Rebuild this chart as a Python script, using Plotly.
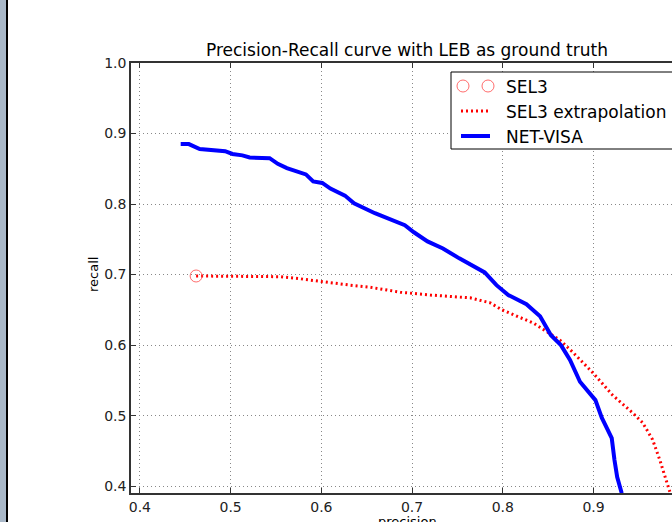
import plotly.graph_objects as go

# ---- data ----
netvisa_precision = [0.445, 0.454, 0.466, 0.494, 0.502, 0.513, 0.521, 0.543, 0.552, 0.562,
                     0.583, 0.591, 0.601, 0.610, 0.626, 0.636, 0.659, 0.692, 0.702, 0.717,
                     0.734, 0.752, 0.780, 0.793, 0.806, 0.826, 0.841, 0.848, 0.853, 0.864,
                     0.874, 0.885, 0.891, 0.902, 0.909, 0.920, 0.923, 0.926, 0.931]
netvisa_recall = [0.885, 0.885, 0.878, 0.875, 0.871, 0.869, 0.866, 0.865, 0.857, 0.851,
                  0.842, 0.832, 0.830, 0.822, 0.812, 0.801, 0.787, 0.770, 0.760, 0.747,
                  0.737, 0.723, 0.703, 0.685, 0.671, 0.658, 0.641, 0.624, 0.614, 0.600,
                  0.579, 0.548, 0.539, 0.522, 0.497, 0.468, 0.437, 0.413, 0.390]

sel3_extrap_precision = [0.462, 0.555, 0.577, 0.599, 0.632, 0.654, 0.687, 0.720, 0.764, 0.786,
                         0.799, 0.834, 0.863, 0.877, 0.899, 0.921, 0.943, 0.954, 0.965, 0.973,
                         0.981, 0.984]
sel3_extrap_recall = [0.698, 0.697, 0.694, 0.690, 0.685, 0.682, 0.675, 0.671, 0.667, 0.660,
                      0.650, 0.631, 0.607, 0.590, 0.561, 0.529, 0.504, 0.490, 0.466, 0.437,
                      0.405, 0.392]

sel3_precision = [0.462]
sel3_recall = [0.698]

x_ticks = [0.4, 0.5, 0.6, 0.7, 0.8, 0.9]
y_ticks = [0.4, 0.5, 0.6, 0.7, 0.8, 0.9, 1.0]

# ---- layout geometry (pixels) ----
W, H = 672, 522
L, R, T, B = 131, 0, 63, 29
PW, PH = W - L - R, H - T - B


def px(x):
    return (x - L) / PW


def py(y):
    return (H - B - y) / PH


FONT = "DejaVu Sans"
RED = "#ff0000"
BLUE = "#0000ff"
CIRC = "rgba(255,60,60,0.75)"

fig = go.Figure()
fig.add_trace(go.Scatter(x=sel3_extrap_precision, y=sel3_extrap_recall, mode="lines",
                         line=dict(color=RED, width=3, dash="2px,3px"), showlegend=False))
fig.add_trace(go.Scatter(x=netvisa_precision, y=netvisa_recall, mode="lines",
                         line=dict(color=BLUE, width=4), showlegend=False))
fig.add_trace(go.Scatter(x=sel3_precision, y=sel3_recall, mode="markers",
                         marker=dict(symbol="circle-open", size=12, color=CIRC,
                                     line=dict(width=1, color=CIRC)),
                         showlegend=False))

shapes = []
# left window strip
shapes.append(dict(type="rect", xref="paper", yref="paper", x0=px(0), x1=px(6), y0=py(H), y1=py(0),
                   fillcolor="#a9b8c8", line=dict(width=0), layer="above"))
shapes.append(dict(type="rect", xref="paper", yref="paper", x0=px(6), x1=px(8), y0=py(H), y1=py(0),
                   fillcolor="#000000", line=dict(width=0), layer="above"))
# legend box
shapes.append(dict(type="rect", xref="paper", yref="paper", x0=px(451), x1=px(720), y0=py(149), y1=py(72),
                   fillcolor="white", line=dict(color="black", width=1), layer="above"))
# legend symbols
for cx in (463, 488):
    shapes.append(dict(type="circle", xref="paper", yref="paper", x0=px(cx - 6), x1=px(cx + 6),
                       y0=py(86 + 6), y1=py(86 - 6), line=dict(color=CIRC, width=1), layer="above"))
shapes.append(dict(type="line", xref="paper", yref="paper", x0=px(461), x1=px(489), y0=py(111), y1=py(111),
                   line=dict(color=RED, width=3, dash="2px,3px"), layer="above"))
shapes.append(dict(type="line", xref="paper", yref="paper", x0=px(461), x1=px(490), y0=py(136), y1=py(136),
                   line=dict(color=BLUE, width=4), layer="above"))

annotations = []
for txt, yy in (("SEL3", 87), ("SEL3 extrapolation", 111.5), ("NET-VISA", 136.5)):
    annotations.append(dict(text=txt, xref="paper", yref="paper", x=px(504), y=py(yy),
                            xanchor="left", yanchor="middle", showarrow=False,
                            font=dict(family=FONT, size=17, color="black")))
annotations.append(dict(text="Precision-Recall curve with LEB as ground truth", xref="paper", yref="paper",
                        x=px(407), y=py(50), xanchor="center", yanchor="middle", showarrow=False,
                        font=dict(family=FONT, size=17, color="black")))
annotations.append(dict(text="recall", xref="paper", yref="paper", x=px(93), y=py(275),
                        xanchor="center", yanchor="middle", showarrow=False, textangle=-90,
                        font=dict(family=FONT, size=13, color="black")))
annotations.append(dict(text="precision", xref="paper", yref="paper", x=px(407), y=py(512),
                        xanchor="center", yanchor="top", showarrow=False,
                        font=dict(family=FONT, size=13, color="black")))

axis_common = dict(showline=True, linecolor="#333333", linewidth=1.6, ticks="inside", ticklen=5,
                   tickwidth=1, tickcolor="#333333", showgrid=True, gridcolor="#888888",
                   gridwidth=1, griddash="1px,3px", zeroline=False,
                   tickfont=dict(family=FONT, size=14, color="#222222"))

fig.update_layout(
    width=W, height=H,
    margin=dict(l=L, r=R, t=T, b=B),
    paper_bgcolor="white", plot_bgcolor="white",
    xaxis=dict(range=[0.39025, 0.9864], tickvals=x_ticks, ticktext=[f"{v:.1f}" for v in x_ticks],
               mirror="ticks", **axis_common),
    yaxis=dict(range=[0.3903, 1.0], tickvals=y_ticks, ticktext=[f"{v:.1f}" for v in y_ticks],
               mirror=False, **axis_common),
    shapes=shapes, annotations=annotations, showlegend=False,
)

fig.write_html("out.html", config={"displayModeBar": False},
               post_script="document.body.style.margin='0';document.body.style.overflow='hidden';")
